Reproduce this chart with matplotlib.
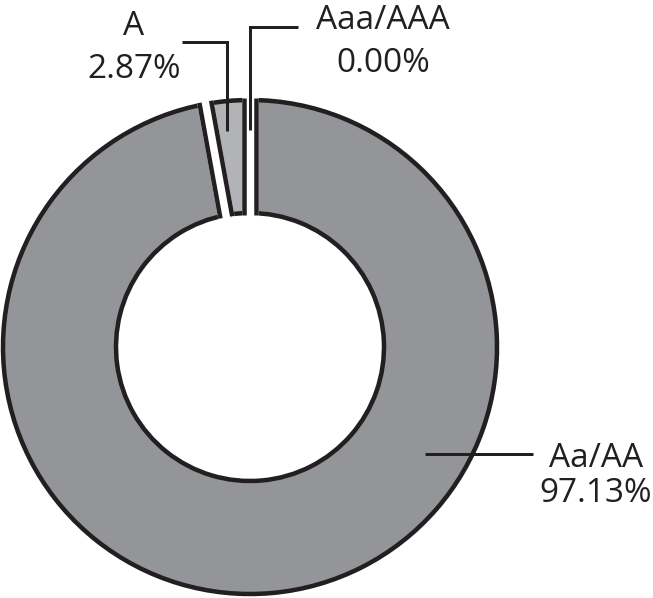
"""
Donut chart of rating shares with hand-placed callout labels.
"""

import matplotlib.pyplot as plt
import numpy as np

# rating buckets, clockwise from 12 o'clock
ratings = ["Aaa/AAA", "Aa/AA", "A"]
shares = [0.00, 97.13, 2.87]
slice_colors = ["#c8c9cb", "#939598", "#b1b3b6"]

W, H = 653, 598
EDGE = "#231f20"


def px(x, y):
    """image pixel (y down) -> data coords (y up)"""
    return x, H - y


def main():
    plt.rcParams["font.family"] = ["Open Sans", "DejaVu Sans"]

    fig = plt.figure(figsize=(W / 100, H / 100), dpi=100)
    ax = fig.add_axes([0, 0, 1, 1])

    cx, cy = px(250, 347)
    r_out, r_in = 247, 134
    edge_px, gap_px = 4.5, 7.5
    pt = 0.72  # points per pixel at 100 dpi

    ax.pie(
        shares,
        colors=slice_colors,
        startangle=90,
        counterclock=False,
        radius=r_out,
        center=(cx, cy),
        wedgeprops=dict(width=r_out - r_in, edgecolor=EDGE,
                        linewidth=edge_px * pt, joinstyle="miter"),
    )
    # pie() resets the limits, so set the pixel frame afterwards
    ax.set_xlim(0, W)
    ax.set_ylim(0, H)
    ax.set_aspect("equal")
    ax.axis("off")

    # white gaps with black sides at every slice boundary
    total = sum(shares)
    cum = np.concatenate([[0], np.cumsum(shares)])
    bounds = np.unique(np.round((90 - 360 * cum / total) % 360, 4))
    for th in np.deg2rad(bounds):
        u = np.array([np.cos(th), np.sin(th)])
        n = np.array([-u[1], u[0]])
        a = np.array([cx, cy]) + u * (r_in - edge_px)
        b = np.array([cx, cy]) + u * (r_out + edge_px)
        ax.plot([a[0], b[0]], [a[1], b[1]], color="white",
                lw=(gap_px + 2 * edge_px) * pt, solid_capstyle="butt",
                zorder=3)
        d = gap_px / 2 + edge_px / 2
        for s in (-1, 1):
            p0 = np.array([cx, cy]) + u * (r_in - edge_px / 2) + s * n * d
            p1 = np.array([cx, cy]) + u * (r_out + edge_px / 2) + s * n * d
            ax.plot([p0[0], p1[0]], [p0[1], p1[1]], color=EDGE,
                    lw=edge_px * pt, solid_capstyle="butt", zorder=4)

    # leader tips: near mid-angle of the small slices, a chosen spot on the big one
    mids = 90 - 360 * (cum[:-1] + np.array(shares) / 2) / total
    r_tip = 217
    tip_aaa = (cx + r_tip * np.cos(np.deg2rad(mids[0])),
               cy + r_tip * np.sin(np.deg2rad(mids[0])))
    tip_a = (cx + r_tip * np.cos(np.deg2rad(mids[2] + 0.8)),
             cy + r_tip * np.sin(np.deg2rad(mids[2] + 0.8)))
    tip_aa = (cx + 205 * np.cos(np.deg2rad(-31.4)),
              cy + 205 * np.sin(np.deg2rad(-31.4)))

    # (text centre x, name baseline y, pct baseline y, leader start)
    callouts = [
        (383, 29, 72, (298, 27)),
        (596, 467, 502, (533, 454)),
        (134, 35, 78, (182, 42)),
    ]
    tips = [tip_aaa, tip_aa, tip_a]

    for (tx, ny, py, start), tip, name, val in zip(callouts, tips,
                                                   ratings, shares):
        ax.text(*px(tx, ny), name, ha="center", va="baseline",
                fontsize=24, color=EDGE)
        ax.text(*px(tx, py), f"{val / total * 100:.2f}%", ha="center",
                va="baseline", fontsize=24, color=EDGE)
        sx, sy = px(*start)
        if abs(tip[1] - sy) > 40:
            # elbow: horizontal then straight down
            xs = [sx, tip[0], tip[0]]
            ys = [sy, sy, tip[1]]
        else:
            xs = [sx, tip[0]]
            ys = [tip[1], tip[1]]
        ax.plot(xs, ys, color=EDGE, lw=3 * pt, solid_joinstyle="miter",
                solid_capstyle="butt", zorder=5)

    fig.savefig("out.png", dpi=100)


if __name__ == "__main__":
    main()
